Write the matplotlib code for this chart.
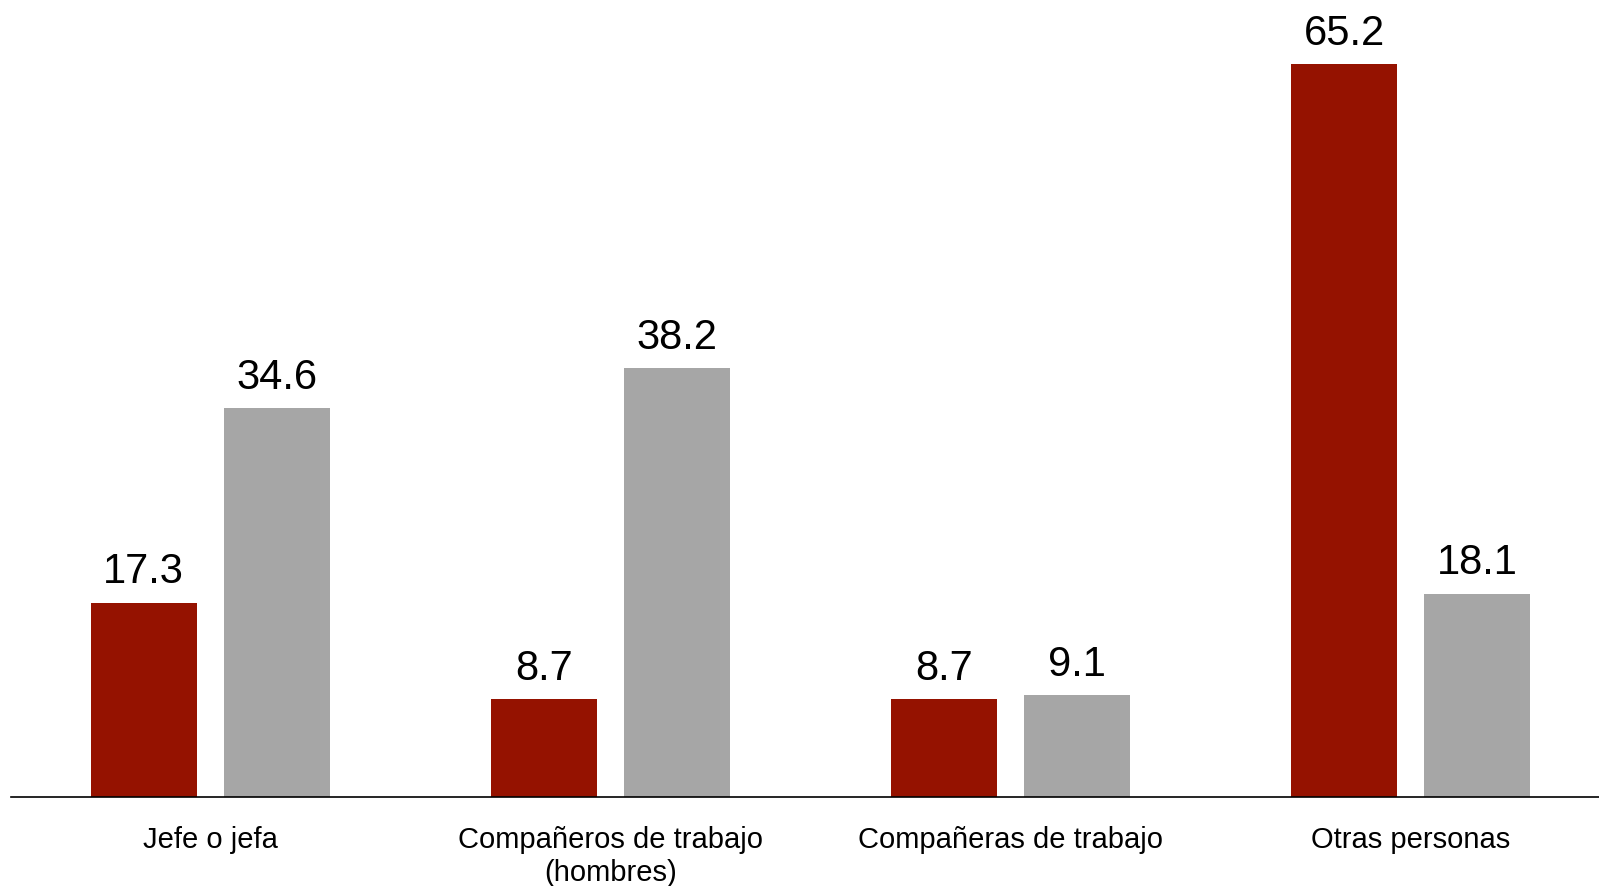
import numpy as np
import matplotlib
matplotlib.use("Agg")
import matplotlib.pyplot as plt

plt.rcParams['font.family'] = ['Liberation Sans', 'DejaVu Sans']

# data
categories = ["Jefe o jefa", "Compañeros de trabajo\n(hombres)",
              "Compañeras de trabajo", "Otras personas"]
serie_roja = [17.3, 8.7, 8.7, 65.2]
serie_gris = [34.6, 38.2, 9.1, 18.1]

RED = "#951200"
GRAY = "#A6A6A6"


def main():
    fig = plt.figure(figsize=(15.99, 8.87), dpi=100)
    ax = fig.add_axes([11 / 1599, 89 / 887, 1 - 11 / 1599, 798 / 887])

    x = np.arange(len(categories))
    w = 0.265
    off = 0.166
    b1 = ax.bar(x - off, serie_roja, w, color=RED)
    b2 = ax.bar(x + off, serie_gris, w, color=GRAY)

    for bars in (b1, b2):
        for rect in bars:
            h = rect.get_height()
            ax.annotate(f"{h:.1f}", (rect.get_x() + rect.get_width() / 2, h),
                        xytext=(0, 8), textcoords="offset points",
                        ha="center", va="bottom", fontsize=30)

    ax.set_xlim(-0.4975, 3.47)
    ax.set_ylim(0, 71.0)
    ax.set_xticks(x)
    ax.set_xticklabels(categories, fontsize=21, linespacing=1.25)
    ax.tick_params(axis="x", length=0, pad=20)
    ax.set_yticks([])
    for s in ("top", "right", "left"):
        ax.spines[s].set_visible(False)
    ax.spines["bottom"].set_linewidth(1.2)

    fig.savefig("out.png", dpi=100)


if __name__ == "__main__":
    main()
